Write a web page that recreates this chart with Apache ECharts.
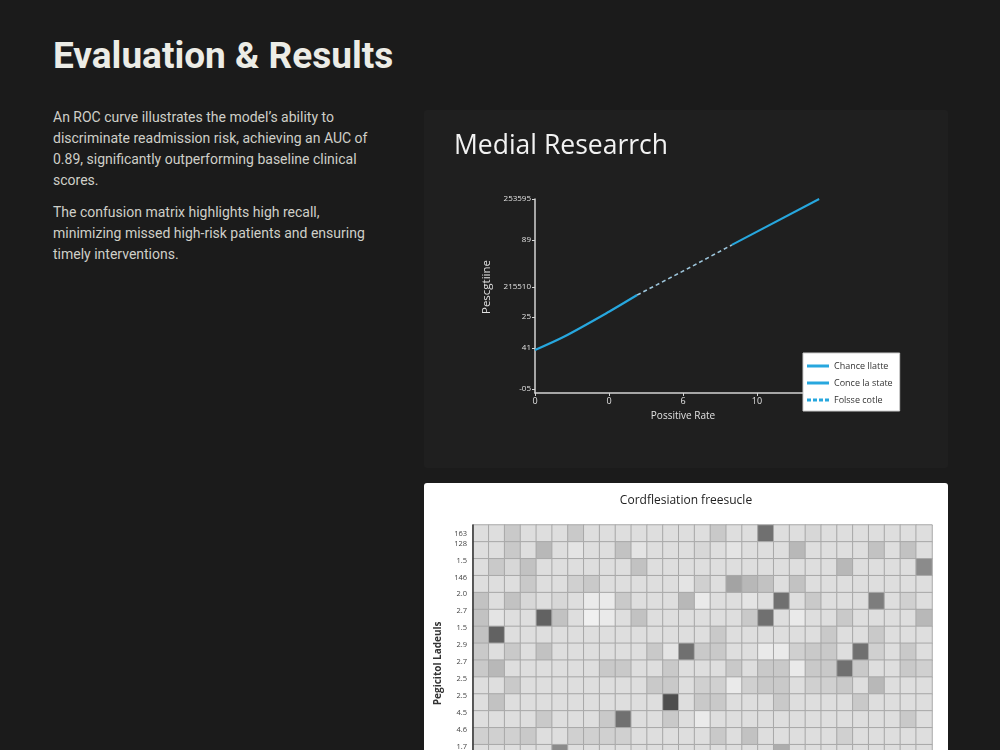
<!DOCTYPE html>
<html>
<head>
<meta charset="utf-8">
<script src="https://cdn.jsdelivr.net/npm/echarts@6/dist/echarts.min.js"></script>
<style>
  html, body {
    margin: 0;
    padding: 0;
    width: 1000px;
    height: 750px;
    overflow: hidden;
    background: #1b1b1b;
  }
  h1 {
    position: absolute;
    left: 53px;
    top: 34px;
    margin: 0;
    font: 700 37px/44px Roboto, sans-serif;
    color: #ecece6;
  }
  .text {
    position: absolute;
    left: 53px;
    top: 107px;
    width: 380px;
    font: 14px/21px Roboto, sans-serif;
    color: #cfcfc8;
  }
  .text p { margin: 0 0 11px; }
  #roc {
    position: absolute;
    left: 424px;
    top: 110px;
    width: 524px;
    height: 358px;
    background: #1f1f1f;
    border-radius: 3px;
  }
  #cm {
    position: absolute;
    left: 424px;
    top: 483px;
    width: 524px;
    height: 300px;
    background: #ffffff;
    border-radius: 3px;
  }
</style>
</head>
<body>
<h1>Evaluation &amp; Results</h1>
<div class="text">
  <p>An ROC curve illustrates the model’s ability to<br>discriminate readmission risk, achieving an AUC of<br>0.89, significantly outperforming baseline clinical<br>scores.</p>
  <p>The confusion matrix highlights high recall,<br>minimizing missed high-risk patients and ensuring<br>timely interventions.</p>
</div>
<div id="roc"></div>
<div id="cm"></div>

<script>
// ROC chart
const rocXLabels = ['0', '0', '6', '10', '']
const rocYTicks = [2.1, 23.2, 39.2, 54.6, 78.9, 100]
const rocYLabels = ['-05', '41', '25', '215510', '89', '253595']
const chanceLatte = [[0, 22.2], [0.39, 29.0], [1.0, 41.9], [1.38, 50.5]]
const folsseCotle = [[1.38, 50.5], [2.03, 63.4], [2.66, 76.3]]
const conceLaState = [[2.66, 76.3], [3.84, 100]]

// confusion matrix
const cmRowLabels = ['163', '128', '1.5', '146', '2.0', '2.7', '1.5', '2.9', '2.7', '2.5', '2.5', '4.5', '4.6', '1.7']
const cmLabelPos = [0.55, 1.1, 2.1, 3.1, 4.1, 5.1, 6.1, 7.1, 8.1, 9.1, 10.1, 11.1, 12.1, 13.1]
const cmCols = ['1', '2', '3', '4', '5', '6', '7', '8', '9', '10', '11', '12', '13', '14', '15',
  '16', '17', '18', '19', '20', '21', '22', '23', '24', '25', '26', '27', '28', '29']
const cmValues = [
  [2, 2, 3.5, 2, 2, 2, 3.5, 2, 2, 2, 2, 2, 2, 2, 2, 3.5, 2, 2, 7.5, 2, 2, 2.5, 2, 2, 2, 2, 2, 2, 2],
  [2, 2, 3.5, 2, 4.5, 2, 1.5, 2, 2, 4, 1.5, 2, 2, 2, 2.5, 2, 1.5, 2, 2, 2, 4.5, 2, 2, 2, 2, 4, 2, 4, 2],
  [2, 3.5, 2.5, 4, 2, 2, 2, 2, 2, 2, 4, 2, 2, 2, 2, 2, 2, 2, 2, 2, 2, 2, 2, 4.5, 2, 2, 2, 2, 6.5],
  [2, 2, 2, 3.5, 2, 2, 3, 3.5, 2, 2, 2, 2, 2, 1.5, 3, 2, 5.5, 4.5, 4, 2, 4, 2, 2, 2, 2, 2, 2, 2, 2],
  [4, 2, 4, 2.5, 2, 2.5, 2, 1, 1, 3.5, 2, 2, 2, 4.5, 1, 2, 2, 1.5, 2, 7.5, 2, 3.5, 2, 2, 2, 7, 2, 3, 2],
  [4, 1.5, 2, 2, 8, 4, 2, 0.5, 1, 2, 4, 2, 2, 2, 2, 2, 2, 3.5, 7.5, 2, 1, 2, 2, 3.5, 2, 2, 2, 2, 4.5],
  [4, 8, 2, 2, 2, 2, 2, 2, 2, 2, 2, 2, 2, 2, 2, 3.5, 2, 2, 2, 2, 2, 2, 3.5, 2, 2, 3.5, 2, 2, 2],
  [3.5, 2, 3.5, 2, 4, 2, 2, 2, 2, 2, 2, 3.5, 1.5, 7.5, 3.5, 3.5, 2, 2, 1, 1, 3, 3.5, 3.5, 2, 7.5, 3, 2, 3.5, 2],
  [3.5, 4.5, 2, 2, 2, 2, 2, 2, 3.5, 3.5, 2, 2, 3.5, 2, 2, 2, 3.5, 2, 3.5, 3.5, 1, 3.5, 3.5, 7.5, 3.5, 2, 2, 3.5, 3],
  [2, 2, 3.5, 2, 2, 2, 2, 2, 2, 2, 2, 3.5, 3.5, 2, 3, 3, 1, 3, 3.5, 3.5, 2, 3, 3, 3.5, 2, 4.5, 2, 2, 2],
  [2, 4, 2, 2, 2, 2, 2, 2, 2, 2, 2, 2, 9, 2, 3.5, 3.5, 2, 2, 2, 3.5, 2, 2, 2, 2, 3.5, 2, 2, 2, 2],
  [2, 2, 2, 2, 3.5, 2, 2, 2, 3.5, 7.5, 2, 2, 3.5, 2, 1, 2, 2, 2, 2, 2, 2, 2, 2, 2, 2, 2, 2, 3.5, 2],
  [3, 3, 3, 3.5, 2, 2, 3, 3, 3, 3, 2, 2, 2, 2, 2, 3.5, 2, 4, 2, 2, 2, 2, 2, 3, 2, 2, 2, 2, 2],
  [2, 2, 2, 2, 2, 6.5, 2, 2, 2, 2, 2, 2, 2, 2, 2, 2, 2, 2, 2, 5, 2, 2, 2, 2, 2, 2, 2, 2, 2]
]

const axisGray = '#d4d4d4'
const lineBlue = '#27a7de'
// legend icons: plain bar and dashed bar (no symbol dot)
const solidIcon = 'path://M0,0h22v3h-22z'
const dashIcon = 'path://M0,0h4v3h-4z M6,0h4v3h-4z M12,0h4v3h-4z M18,0h4v3h-4z'

const rocChart = echarts.init(document.getElementById('roc'))
rocChart.setOption({
  animation: false,
  title: {
    text: 'Medial Researrch',
    left: 25,
    top: 18,
    textStyle: {
      color: '#f2f2f2',
      fontSize: 26.5,
      fontWeight: 'normal',
      fontFamily: 'Open Sans'
    }
  },
  grid: { left: 111, right: 117, top: 89, bottom: 75 },
  legend: {
    orient: 'vertical',
    left: 379,
    top: 243,
    padding: [7, 7, 5, 4],
    itemWidth: 22,
    itemHeight: 3,
    itemGap: 5,
    backgroundColor: '#ffffff',
    borderColor: '#cccccc',
    borderWidth: 1,
    z: 10,
    textStyle: { color: '#333', fontSize: 9, lineHeight: 12, fontFamily: 'Open Sans' },
    data: [
      { name: 'Chance llatte', icon: solidIcon, itemStyle: { color: lineBlue } },
      { name: 'Conce la state', icon: solidIcon, itemStyle: { color: lineBlue } },
      { name: 'Folsse cotle', icon: dashIcon, itemStyle: { color: lineBlue } }
    ]
  },
  xAxis: {
    type: 'value',
    min: 0,
    max: 4,
    interval: 1,
    name: 'Possitive Rate',
    nameLocation: 'middle',
    nameGap: 14,
    nameTextStyle: { color: '#e0e0e0', fontSize: 10, fontFamily: 'Open Sans' },
    axisLine: { lineStyle: { color: axisGray, width: 1.5 } },
    axisTick: { length: 3, lineStyle: { color: axisGray } },
    splitLine: { show: false },
    axisLabel: {
      color: '#e0e0e0',
      fontSize: 9,
      margin: 4,
      fontFamily: 'Open Sans',
      formatter: v => rocXLabels[v]
    }
  },
  yAxis: {
    type: 'value',
    min: 0,
    max: 100,
    name: 'Pescgtiine',
    nameLocation: 'middle',
    nameGap: 33,
    nameTextStyle: { color: '#e0e0e0', fontSize: 11.5, fontFamily: 'Open Sans', padding: [0, 0, 0, 18] },
    axisLine: { show: true, lineStyle: { color: axisGray, width: 1.5 } },
    axisTick: { show: true, length: 3, customValues: rocYTicks, lineStyle: { color: axisGray } },
    splitLine: { show: false },
    axisLabel: {
      color: '#e0e0e0',
      fontSize: 8,
      margin: 4,
      fontFamily: 'Open Sans',
      customValues: rocYTicks,
      formatter: v => rocYLabels[rocYTicks.indexOf(v)]
    }
  },
  series: [
    {
      name: 'Chance llatte',
      type: 'line',
      data: chanceLatte,
      symbol: 'none',
      smooth: 0.3,
      color: lineBlue,
      lineStyle: { width: 2.2, color: lineBlue }
    },
    {
      name: 'Conce la state',
      type: 'line',
      data: conceLaState,
      symbol: 'none',
      color: lineBlue,
      lineStyle: { width: 2, color: lineBlue }
    },
    {
      name: 'Folsse cotle',
      type: 'line',
      data: folsseCotle,
      symbol: 'none',
      color: '#9cc4da',
      lineStyle: { width: 1.6, type: [4, 3], color: '#9cc4da' }
    }
  ]
})

const cmData = []
cmValues.forEach((row, r) => {
  row.forEach((v, c) => cmData.push([c, r, v]))
})

const cmChart = echarts.init(document.getElementById('cm'))
cmChart.setOption({
  animation: false,
  title: {
    text: 'Cordflesiation freesucle',
    left: 'center',
    top: 7,
    textStyle: { color: '#222', fontSize: 12, fontWeight: 'normal', fontFamily: 'Open Sans' }
  },
  grid: { left: 49, top: 42, width: 459, height: 236.6 },
  visualMap: {
    show: false,
    min: 0,
    max: 10,
    inRange: { color: ['#f6f6f6', '#dedede', '#c2c2c2', '#989898', '#626262', '#3a3a3a'] }
  },
  xAxis: {
    type: 'category',
    data: cmCols,
    axisLabel: { show: false },
    axisTick: { show: false },
    axisLine: { lineStyle: { color: '#999' } },
    splitArea: { show: false }
  },
  yAxis: [
    {
      type: 'category',
      data: cmRowLabels,
      inverse: true,
      axisLabel: { show: false },
      axisTick: { show: false },
      axisLine: { show: true, lineStyle: { color: '#333', width: 1.5 } },
      z: 5
    },
    {
      type: 'value',
      min: 0,
      max: 14,
      inverse: true,
      position: 'left',
      name: 'Pegicitol Ladeuls',
      nameLocation: 'middle',
      nameGap: 26,
      nameTextStyle: { color: '#333', fontSize: 10, fontWeight: 'bold', fontFamily: 'Open Sans', padding: [0, 40, 0, 0] },
      axisLine: { show: false },
      axisTick: { show: false },
      splitLine: { show: false },
      axisLabel: {
        color: '#444',
        fontSize: 7.5,
        margin: 6,
        fontFamily: 'Open Sans',
        customValues: cmLabelPos,
        formatter: v => cmRowLabels[cmLabelPos.indexOf(v)]
      }
    }
  ],
  series: [{
    type: 'heatmap',
    data: cmData,
    itemStyle: { borderColor: '#a8a8a8', borderWidth: 1 }
  }]
})
</script>
</body>
</html>
